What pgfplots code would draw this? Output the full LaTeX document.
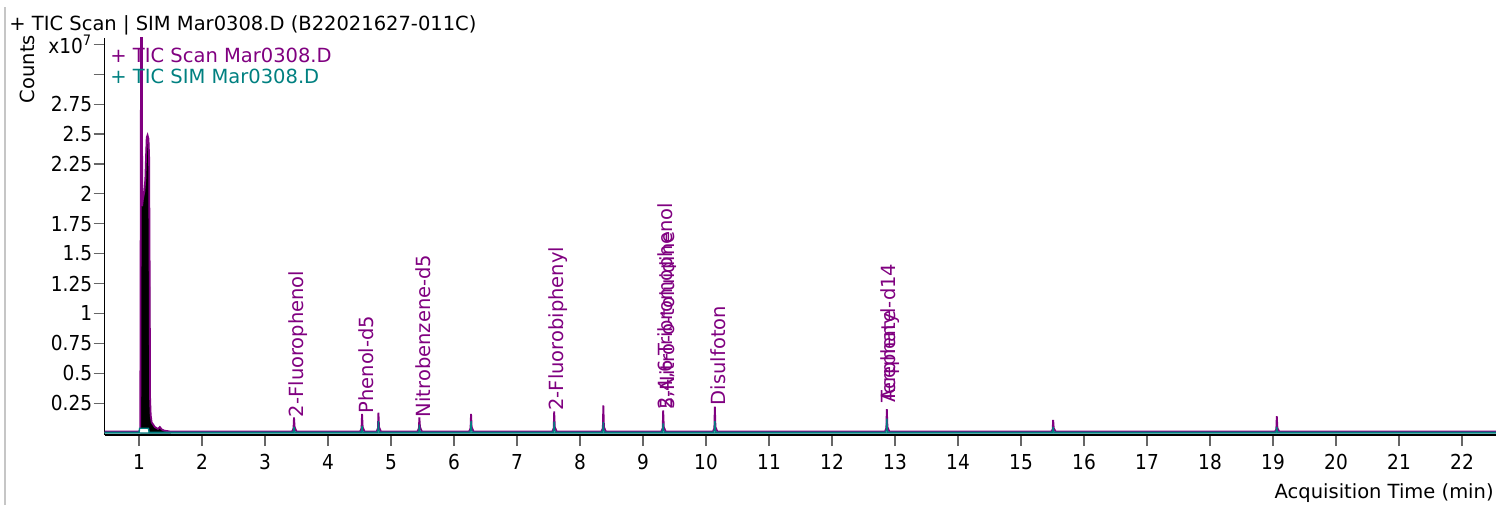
\documentclass[border=0pt]{standalone}
\usepackage{pgfplots}
\pgfplotsset{compat=1.18}
\usepackage{fontspec}
\setmainfont{DejaVu Sans}
\newfontfamily\tickfont{DejaVu Sans Condensed}
\definecolor{scanc}{RGB}{128,0,128}
\definecolor{simc}{RGB}{0,128,128}
\begin{document}
\fontsize{9.75bp}{12bp}\selectfont
\begin{tikzpicture}[x=1bp,y=1bp]
\path[use as bounding box] (0,0) rectangle (748,252.5);
\draw[gray!45, line width=0.8bp] (2.6,0) -- (2.6,249);
\node[anchor=west, inner sep=0] at (4.5,240) {+ TIC Scan | SIM Mar0308.D (B22021627-011C)};
\node[rotate=90, inner sep=0] at (13.5,218) {Counts};
\node[anchor=east, inner sep=0] at (747,6) {Acquisition Time (min)};
\begin{axis}[
  at={(52.25bp,35bp)}, anchor=south west,
  scale only axis, width=695.75bp, height=198.5bp,
  xmin=0.452, xmax=22.54, ymin=-0.0167, ymax=3.303,
  axis lines*=left,
  axis line style={black, line width=0.6bp},
  tick align=outside,
  major tick length=5.5bp,
  tick style={black!60, line width=0.6bp},
  xtick={1,2,3,4,5,6,7,8,9,10,11,12,13,14,15,16,17,18,19,20,21,22},
  ytick={0.25,0.5,0.75,1,1.25,1.5,1.75,2,2.25,2.5,2.75,3,3.25},
  yticklabels={0.25,0.5,0.75,1,1.25,1.5,1.75,2,2.25,2.5,2.75,{},x10\textsuperscript{7}},
  /pgf/number format/assume math mode=true,
  ticklabel style={font=\tickfont\fontsize{10.3bp}{12bp}\selectfont, text=black},
  xticklabel style={inner sep=0pt, yshift=-4bp},
  yticklabel style={inner sep=0pt, xshift=-0.5bp},
]
% black dense main peak
\addplot[draw=black, fill=black, line width=0.4bp] coordinates {
(1.027,0.01)(1.030,1.80)(1.040,1.92)(1.050,1.88)(1.060,1.95)(1.075,1.93)(1.085,2.02)
(1.100,2.10)(1.112,2.30)(1.122,2.46)(1.135,2.48)(1.150,2.45)(1.160,2.30)(1.168,1.2)
(1.172,0.30)(1.180,0.15)(1.200,0.08)(1.250,0.05)(1.300,0.03)(1.330,0.05)(1.360,0.03)
(1.400,0.02)(1.500,0.012)} \closedcycle;
% TIC Scan
\addplot[scanc, line width=0.9bp] coordinates {
(0.452,0.012)(1.000,0.012)(1.020,0.03)(1.033,3.6)(1.045,3.6)(1.050,1.90)(1.060,1.95)
(1.085,2.02)(1.100,2.12)(1.112,2.32)(1.122,2.47)(1.135,2.49)(1.150,2.46)(1.160,2.31)
(1.170,1.2)(1.175,0.30)(1.185,0.15)(1.200,0.09)(1.250,0.05)(1.300,0.035)(1.330,0.05)
(1.360,0.03)(1.400,0.02)(1.500,0.012)
(3.43,0.012)(3.452,0.04)(3.46,0.13)(3.47,0.05)(3.50,0.012)
(4.51,0.012)(4.532,0.04)(4.54,0.16)(4.55,0.05)(4.58,0.012)
(4.77,0.012)(4.792,0.04)(4.80,0.17)(4.81,0.05)(4.84,0.012)
(5.42,0.012)(5.442,0.04)(5.45,0.13)(5.46,0.05)(5.49,0.012)
(6.24,0.012)(6.262,0.04)(6.27,0.16)(6.28,0.05)(6.31,0.012)
(7.56,0.012)(7.582,0.04)(7.59,0.18)(7.60,0.05)(7.63,0.012)
(8.34,0.012)(8.362,0.04)(8.37,0.23)(8.38,0.05)(8.41,0.012)
(9.29,0.012)(9.312,0.04)(9.32,0.19)(9.33,0.05)(9.36,0.012)
(10.11,0.012)(10.132,0.04)(10.14,0.22)(10.15,0.05)(10.18,0.012)
(12.84,0.012)(12.862,0.04)(12.87,0.20)(12.88,0.05)(12.91,0.012)
(15.48,0.012)(15.502,0.03)(15.51,0.11)(15.52,0.04)(15.55,0.012)
(19.03,0.012)(19.052,0.03)(19.06,0.14)(19.07,0.04)(19.10,0.012)
(22.54,0.012)};
% TIC SIM
\addplot[simc, fill=white, line width=0.7bp] coordinates {
(0.452,0.005)(1.000,0.005)(1.010,0.04)(1.150,0.04)(1.160,0.005)
(3.44,0.005)(3.455,0.02)(3.46,0.05)(3.465,0.02)(3.48,0.005)
(4.52,0.005)(4.535,0.02)(4.54,0.06)(4.545,0.02)(4.56,0.005)
(4.78,0.005)(4.795,0.03)(4.80,0.10)(4.805,0.03)(4.82,0.005)
(5.43,0.005)(5.445,0.02)(5.45,0.07)(5.455,0.02)(5.47,0.005)
(6.25,0.005)(6.265,0.03)(6.27,0.10)(6.275,0.03)(6.29,0.005)
(7.57,0.005)(7.585,0.03)(7.59,0.095)(7.595,0.03)(7.61,0.005)
(8.35,0.005)(8.365,0.03)(8.37,0.09)(8.375,0.03)(8.39,0.005)
(9.30,0.005)(9.315,0.03)(9.32,0.08)(9.325,0.03)(9.34,0.005)
(10.12,0.005)(10.135,0.03)(10.14,0.10)(10.145,0.03)(10.16,0.005)
(12.85,0.005)(12.865,0.03)(12.87,0.12)(12.875,0.03)(12.89,0.005)
(15.49,0.005)(15.505,0.02)(15.51,0.05)(15.515,0.02)(15.53,0.005)
(19.04,0.005)(19.055,0.02)(19.06,0.05)(19.065,0.02)(19.08,0.005)
(22.54,0.005)} \closedcycle;
% legend texts
\node[anchor=west, inner sep=0, text=scanc] at (rel axis cs:0.004,0.957) {+ TIC Scan Mar0308.D};
\node[anchor=west, inner sep=0, text=simc] at (rel axis cs:0.004,0.904) {+ TIC SIM Mar0308.D};
% compound labels
\begin{scope}[every node/.style={rotate=90, anchor=west, inner sep=0, text=scanc}]
\node at (axis cs:3.52,0.13) {2-Fluorophenol};
\node at (axis cs:4.60,0.16) {Phenol-d5};
\node at (axis cs:5.51,0.13) {Nitrobenzene-d5};
\node at (axis cs:7.65,0.185) {2-Fluorobiphenyl};
\node at (axis cs:9.38,0.19) {2,4,6-Tribromophenol};
\node at (axis cs:9.38,0.19) {5-Nitro-o-toluidine};
\node at (axis cs:10.20,0.23) {Disulfoton};
\node at (axis cs:12.93,0.25) {Terphenyl-d14};
\node at (axis cs:12.93,0.25) {Acephate};
\end{scope}
\end{axis}
\end{tikzpicture}
\end{document}
